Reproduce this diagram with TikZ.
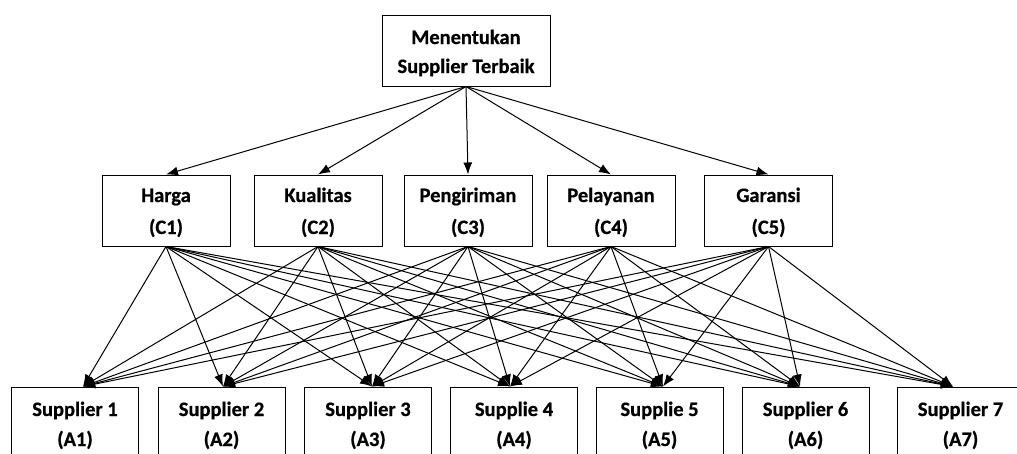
\documentclass[tikz,border=0pt]{standalone}
\usepackage{fontspec}
\setmainfont{Carlito}[BoldFeatures={FakeBold=0.6}]
\usetikzlibrary{arrows.meta}
\begin{document}
\begin{tikzpicture}[x=1pt,y=-1pt,
  box/.style={draw=black, line width=1pt, minimum width=#1, minimum height=71pt, inner sep=0pt},
  box/.default=128pt,
  abox/.style={draw=black, line width=1pt, minimum width=127pt, minimum height=80pt, inner sep=0pt},
  lbl/.style={anchor=base, inner sep=0pt, font=\bfseries\fontsize{20.5}{24}\selectfont},
  arr/.style={-{Latex[length=12pt,width=9pt]}, line width=1pt}]
\clip (0,0) rectangle (1017,453);
% goal
\node[box=168pt] (goal) at (466,50.5) {};
\node[lbl] (g1) at (466,44) {Menentukan};
\node[lbl] (g2) at (466,73) {Supplier Terbaik};
% criteria
\foreach \i/\x/\t in {1/166/Harga, 2/318/Kualitas, 3/468/Pengiriman, 4/611/Pelayanan, 5/768.5/Garansi}{
  \node[box] (c\i) at (\x,210.5) {};
  \node[lbl] (c\i a) at (\x,202) {\t};
  \node[lbl] (c\i b) at (\x,234) {(C\i)};
}
% alternatives
\foreach \j/\x/\t in {1/75/Supplier 1, 2/221.5/Supplier 2, 3/368/Supplier 3, 4/514/Supplie 4, 5/659.5/Supplie 5, 6/805.5/Supplier 6, 7/960.5/Supplier 7}{
  \node[abox] (a\j) at (\x,427) {};
  \node[lbl] (a\j a) at (\x,416) {\t};
  \node[lbl] (a\j b) at (\x,446) {(A\j)};
}
% arrows goal -> criteria
\foreach \i in {1,...,5}{
  \draw[arr] (goal.south) -- (c\i.north);
}
% arrows criteria -> alternatives
\foreach \j/\dx in {1/8, 2/1.5, 3/4, 4/-4, 5/3.5, 6/-5.5, 7/-7.5}{
  \coordinate (t\j) at ([xshift=\dx pt]a\j.north);
  \foreach \i in {1,...,5}{
    \draw[arr] (c\i.south) -- (t\j);
  }
}
\end{tikzpicture}
\end{document}
